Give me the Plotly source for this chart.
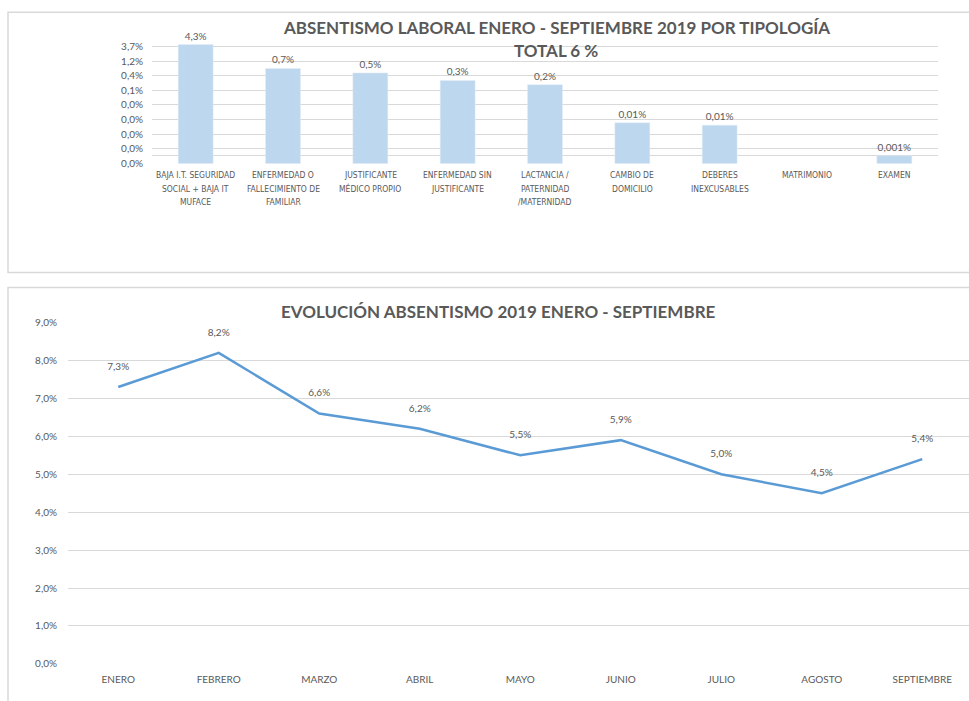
import math
import plotly.graph_objects as go

W, H = 969, 701

# ---- data: top chart (absenteeism by type) ----
tipologias = [
    "BAJA I.T. SEGURIDAD<br>SOCIAL + BAJA IT<br>MUFACE",
    "ENFERMEDAD O<br>FALLECIMIENTO DE<br>FAMILIAR",
    "JUSTIFICANTE<br>MÉDICO PROPIO",
    "ENFERMEDAD SIN<br>JUSTIFICANTE",
    "LACTANCIA /<br>PATERNIDAD<br>/MATERNIDAD",
    "CAMBIO DE<br>DOMICILIO",
    "DEBERES<br>INEXCUSABLES",
    "MATRIMONIO",
    "EXAMEN",
]
valores_tipologia = [0.043, 0.0071, 0.0051, 0.0029, 0.0021, 0.00012, 0.0001, None, 0.00001]
etiquetas_tipologia = ["4,3%", "0,7%", "0,5%", "0,3%", "0,2%", "0,01%", "0,01%", "", "0,001%"]
ticks_top_vals = [0.037, 0.0123, 0.0041, 0.00137, 0.000457, 0.000152, 0.0000508, 0.0000169, 0.00001, 0.00000564]
ticks_top_text = ["3,7%", "1,2%", "0,4%", "0,1%", "0,0%", "0,0%", "0,0%", "0,0%", "", "0,0%"]

# ---- data: bottom chart (monthly evolution) ----
meses = ["ENERO", "FEBRERO", "MARZO", "ABRIL", "MAYO", "JUNIO", "JULIO", "AGOSTO", "SEPTIEMBRE"]
valores_mes = [7.3, 8.2, 6.6, 6.2, 5.5, 5.9, 5.0, 4.5, 5.4]
etiquetas_mes = ["7,3%", "8,2%", "6,6%", "6,2%", "5,5%", "5,9%", "5,0%", "4,5%", "5,4%"]
ticks_bot_vals = [0, 1, 2, 3, 4, 5, 6, 7, 8, 9]
ticks_bot_text = ["0,0%", "1,0%", "2,0%", "3,0%", "4,0%", "5,0%", "6,0%", "7,0%", "8,0%", "9,0%"]

FONT = "Lato"
SMALL_FONT = "Liberation Sans Narrow, DejaVu Sans Condensed, Roboto"
GREY = "#595959"
GRID = "#d9d9d9"
BAR = "#BDD7EE"
LINE = "#5B9BD5"

# vertical calibration of the rendered page (observed offset / scale)
Y_OFF, Y_SCALE = 6.7, 0.982


def px_x(x):
    return x / W


def fig_y(y):
    return (y - Y_OFF) / Y_SCALE


def px_y(y):
    return 1 - fig_y(y) / H


fig = go.Figure()

fig.add_trace(go.Bar(
    x=list(range(len(tipologias))), y=valores_tipologia,
    text=etiquetas_tipologia, textposition="outside",
    textfont=dict(family=FONT, size=10, color=GREY),
    marker=dict(color=BAR), cliponaxis=False,
    xaxis="x", yaxis="y", showlegend=False,
))

fig.add_trace(go.Scatter(
    x=list(range(len(meses))), y=valores_mes, mode="lines+markers+text",
    text=etiquetas_mes, textposition="top center",
    textfont=dict(family=FONT, size=10, color=GREY),
    line=dict(color=LINE, width=2.5),
    marker=dict(size=22, color="rgba(0,0,0,0)"),
    xaxis="x2", yaxis="y2", showlegend=False, cliponaxis=False,
))

# top chart: log axis, gridlines a factor 3 apart (~14.6 px each in the reference)
top_dom = (40, 163)
y_bot = math.log10(0.00000564)
per_px = math.log10(3) / 14.6
y_top = y_bot + (top_dom[1] - top_dom[0]) * per_px

fig.update_layout(
    width=W, height=H, autosize=False,
    margin=dict(l=0, r=0, t=0, b=0),
    paper_bgcolor="white", plot_bgcolor="white",
    bargap=0.6,
    xaxis=dict(domain=[px_x(152), px_x(938)], range=[-0.5, 8.5], anchor="y",
               showticklabels=False, showgrid=False, zeroline=False,
               showline=False),
    yaxis=dict(type="log", domain=[px_y(top_dom[1]), px_y(top_dom[0])], anchor="x",
               range=[y_bot, y_top], tickvals=ticks_top_vals, ticktext=ticks_top_text,
               tickfont=dict(family=FONT, size=10, color=GREY), ticklabelstandoff=8,
               showgrid=True, gridcolor=GRID, gridwidth=1, zeroline=False,
               showline=False, ticks=""),
    xaxis2=dict(domain=[px_x(68), 1], range=[-0.5, 8.465], anchor="y2",
                tickvals=list(range(len(meses))), ticktext=meses,
                tickfont=dict(family=FONT, size=10, color=GREY), ticklabelstandoff=8,
                showgrid=False, zeroline=False, showline=False, ticks=""),
    yaxis2=dict(domain=[px_y(663), px_y(322)], range=[0, 9], anchor="x2",
                tickvals=ticks_bot_vals, ticktext=ticks_bot_text,
                tickfont=dict(family=FONT, size=10, color=GREY), ticklabelstandoff=10,
                showgrid=True, gridcolor=GRID, gridwidth=1, zeroline=False,
                showline=False, ticks=""),
)

annotations = [
    dict(text="<b>ABSENTISMO LABORAL ENERO - SEPTIEMBRE 2019 POR TIPOLOGÍA</b>",
         x=px_x(556), y=px_y(27), xref="paper", yref="paper", yanchor="middle",
         showarrow=False, font=dict(family=FONT, size=17, color=GREY)),
    dict(text="<b>TOTAL 6 %</b>",
         x=px_x(556), y=px_y(50), xref="paper", yref="paper", yanchor="middle",
         showarrow=False, font=dict(family=FONT, size=17, color=GREY)),
    dict(text="<b>EVOLUCIÓN ABSENTISMO 2019 ENERO - SEPTIEMBRE</b>",
         x=px_x(498), y=px_y(311), xref="paper", yref="paper", yanchor="middle",
         showarrow=False, font=dict(family=FONT, size=17, color=GREY)),
]
for i, lab in enumerate(tipologias):
    for j, line in enumerate(lab.split("<br>")):
        annotations.append(dict(
            text=line, x=i, y=px_y(175 + 13.5 * j), xref="x", yref="paper",
            yanchor="middle", showarrow=False,
            font=dict(family=SMALL_FONT, size=8.5, color=GREY)))
fig.update_layout(annotations=annotations)

fig.update_layout(shapes=[
    dict(type="rect", xref="paper", yref="paper",
         x0=px_x(8), x1=px_x(975), y0=px_y(272), y1=px_y(12),
         line=dict(color=GRID, width=1.5), fillcolor="rgba(0,0,0,0)", layer="below"),
    dict(type="rect", xref="paper", yref="paper",
         x0=px_x(8), x1=px_x(975), y0=-0.05, y1=px_y(287),
         line=dict(color=GRID, width=1.5), fillcolor="rgba(0,0,0,0)", layer="below"),
])

fig.write_html("out.html", config={"displayModeBar": False},
               post_script="document.body.style.margin='0px';")
